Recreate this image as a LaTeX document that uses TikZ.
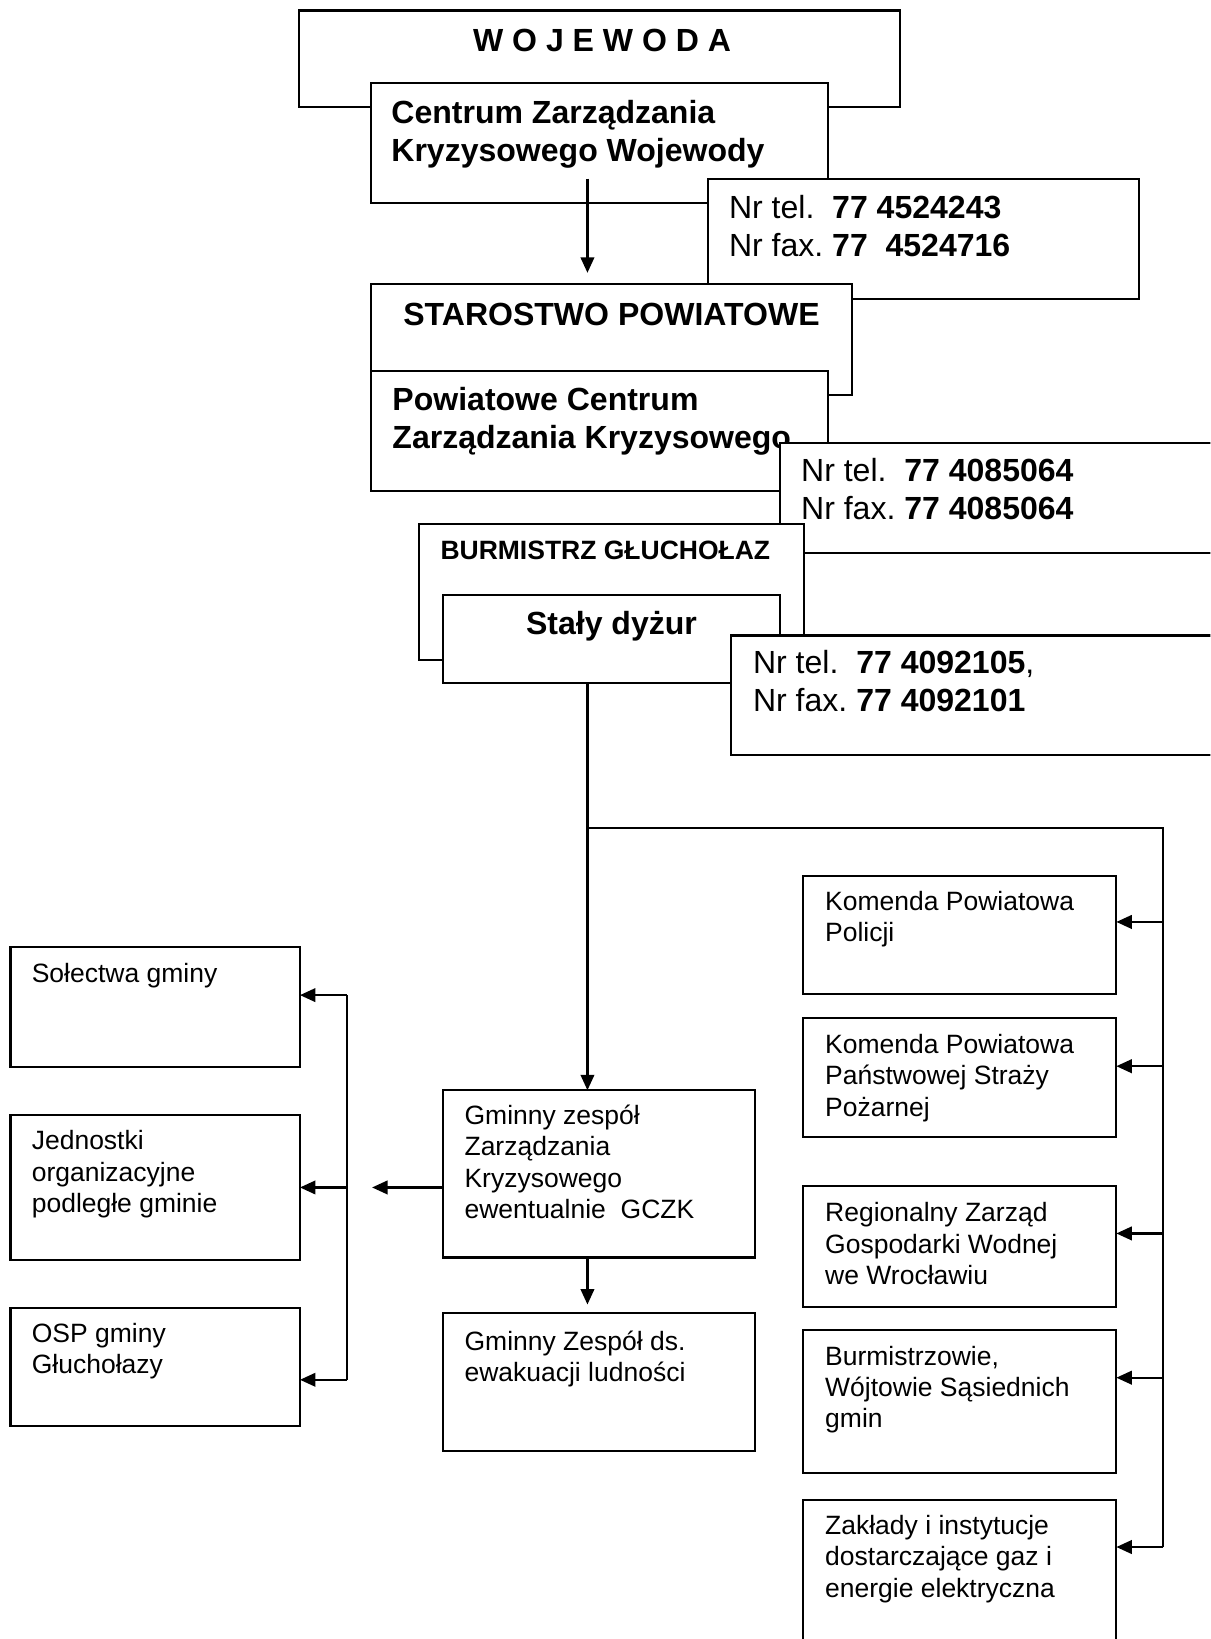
\documentclass[tikz,border=0pt]{standalone}
\usepackage{fontspec}
\setmainfont{Liberation Sans}
\usetikzlibrary{arrows.meta}
\frenchspacing
\def\un{0.015674cm}
\tikzset{
  box/.style={draw, fill=white, line width=0.9pt, inner sep=0pt, outer sep=0pt, anchor=north west},
  big/.style={font=\fontsize{13.66}{16.3}\selectfont, inner sep=0pt, anchor=base west, align=left},
  bigb/.style={big, font=\fontsize{13.66}{16.3}\selectfont\bfseries},
  small/.style={font=\fontsize{11.3}{13.4}\selectfont, inner sep=0pt, anchor=base west, align=left},
  smallb/.style={small, font=\fontsize{11.3}{13.4}\selectfont\bfseries},
  line/.style={line width=0.9pt},
  arr/.style={line, -{Triangle[length=6.6pt,width=5.8pt]}},
}
\newcommand{\bx}[5]{\node[box, minimum width={(#4-#2)*\un}, minimum height={(#5-#3)*\un}] (#1) at (#2,#3) {};}
\begin{document}
\begin{tikzpicture}[x=\un, y=-\un]
\useasboundingbox (0,0) rectangle (1158,1568);
\clip (0,0) rectangle (1158,1568);
% upper chain (text y = baseline of last line)
\bx{woj}{286}{10}{861}{102}
\node[bigb, anchor=base] (woj-t) at (576,49.5) {W O J E W O D A};
\bx{cent}{355}{79}{792}{194}
\node[bigb] (cent-t) at (374,154.7) {Centrum Zarządzania\\Kryzysowego Wojewody};
\bx{tel1}{677}{171}{1090}{286}
\node[big] (tel1-t) at (697,245.6) {Nr tel.\ \ \textbf{77 4524243}\\Nr fax. \textbf{77\ \ 4524716}};
\bx{star}{355}{272}{815}{378}
\node[bigb, anchor=base] (star-t) at (585,311) {STAROSTWO POWIATOWE};
\bx{pow}{355}{355}{792}{470}
\node[bigb] (pow-t) at (375,429) {Powiatowe Centrum\\Zarządzania Kryzysowego};
\bx{tel2}{746}{424}{1200}{529}
\node[big] (tel2-t) at (766,497) {Nr tel.\ \ \textbf{77 4085064}\\Nr fax. \textbf{77 4085064}};
\bx{burm}{401}{501}{769}{631}
\node[smallb] (burm-t) at (421,535.3) {BURMISTRZ GŁUCHOŁAZ};
\bx{staly}{424}{569}{746}{653}
\node[bigb, anchor=base] (staly-t) at (585,607) {Stały dyżur};
\bx{tel3}{699}{608}{1200}{722}
\node[big] (tel3-t) at (720,681) {Nr tel.\ \ \textbf{77 4092105},\\Nr fax. \textbf{77 4092101}};
% gmina
\bx{sol}{10}{906}{287}{1021}
\node[small] (sol-t) at (30,939.5) {Sołectwa gminy};
\bx{jedn}{10}{1067}{287}{1205}
\node[small] (jedn-t) at (30,1160) {Jednostki\\organizacyjne\\podległe gminie};
\bx{osp}{10}{1251}{287}{1364}
\node[small] (osp-t) at (30,1314) {OSP gminy\\Głuchołazy};
\bx{gzk}{424}{1043}{722}{1203}
\node[small] (gzk-t) at (444,1166) {Gminny zespół\\Zarządzania\\Kryzysowego\\ewentualnie\ \ GCZK};
\bx{ewak}{424}{1256}{722}{1388}
\node[small] (ewak-t) at (444,1322) {Gminny Zespół ds.\\ewakuacji ludności};
% sluzby
\bx{kpp}{768}{838}{1068}{951}
\node[small] (kpp-t) at (789,901) {Komenda Powiatowa\\Policji};
\bx{psp}{768}{974}{1068}{1088}
\node[small] (psp-t) at (789,1068) {Komenda Powiatowa\\Państwowej Straży\\Pożarnej};
\bx{rzgw}{768}{1135}{1068}{1250}
\node[small] (rzgw-t) at (789,1229) {Regionalny Zarząd\\Gospodarki Wodnej\\we Wrocławiu};
\bx{burg}{768}{1272}{1068}{1409}
\node[small] (burg-t) at (789,1366) {Burmistrzowie,\\Wójtowie Sąsiednich\\gmin};
\bx{zak}{768}{1435}{1068}{1600}
\node[small] (zak-t) at (789,1528) {Zakłady i instytucje\\dostarczające gaz i\\energie elektryczna};
% connectors
\coordinate (c1) at (562,171);
\draw[arr, shorten >=11*\un] (c1) -- (star.north -| c1);
\coordinate (sp1) at (562,792);
\coordinate (sp2) at (1113,1480);
\draw[arr] (staly.south -| sp1) -- (gzk.north -| sp1);
\draw[line] (sp1) -| (sp2);
\draw[arr] (sp2) -- (zak.east |- sp2);
\foreach \n/\y in {kpp/882, psp/1020, rzgw/1180, burg/1318}
  \draw[arr] (1113,\y) -- (\n.east |- 0,\y);
\draw[arr, shorten >=8*\un] (gzk.south -| sp1) -- (ewak.north -| sp1);
\coordinate (la) at (356,1136);
\draw[arr] (gzk.west |- la) -- (la);
\draw[line] (332,952) -- (332,1320);
\foreach \n/\y in {sol/952, jedn/1136, osp/1320}
  \draw[arr] (332,\y) -- (\n.east |- 0,\y);
\end{tikzpicture}
\end{document}
